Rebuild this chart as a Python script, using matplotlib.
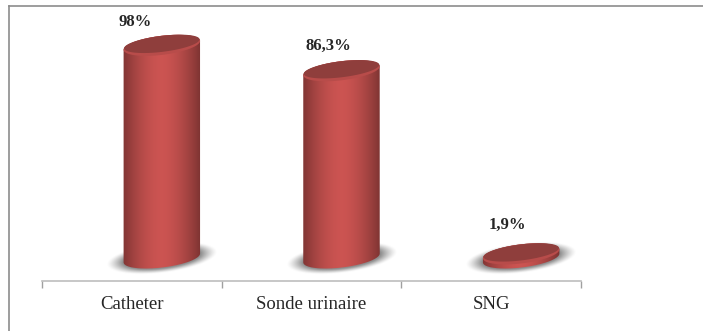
import matplotlib
matplotlib.use("Agg")
import matplotlib.pyplot as plt
import numpy as np
from matplotlib.lines import Line2D
from matplotlib.patches import PathPatch
from matplotlib.path import Path

categories = ["Catheter", "Sonde urinaire", "SNG"]
values = [98, 86.3, 1.9]
value_labels = ["98%", "86,3%", "1,9%"]

W, H = 703, 331
AX_LEFT, AX_RIGHT, AX_BOTTOM, AX_TOP = 42, 581, 281, 6
BASE_PX = 258
PX_PER_UNIT = 2.17
PX_PER_CAT = (AX_RIGHT - AX_LEFT) / 3

# cylinder geometry, in pixels
DEPTH_X = 30
SEMI_A, SEMI_B, TILT = 38.5, 9.5, np.radians(7)
LABEL_DX = [-27, -13, -14]
LABEL_DY = [23, 25, 29]

plt.rcParams["font.family"] = ["Liberation Serif", "DejaVu Serif"]
fig = plt.figure(figsize=(W / 100, H / 100), dpi=100)
ax = fig.add_axes([AX_LEFT / W, 1 - AX_BOTTOM / H, (AX_RIGHT - AX_LEFT) / W, (AX_BOTTOM - AX_TOP) / H])
ax.patch.set_alpha(0)

xlim = (0, 3)
ylim = ((BASE_PX - AX_BOTTOM) / PX_PER_UNIT, (BASE_PX - AX_TOP) / PX_PER_UNIT)


def ellipse_xy(t, a=SEMI_A, b=SEMI_B):
    # tilted ellipse offsets in pixels, y pointing up
    x = a * np.cos(t)
    y = b * np.sin(t)
    return x * np.cos(TILT) - y * np.sin(TILT), x * np.sin(TILT) + y * np.cos(TILT)


def to_data(cx, val, dx, dy):
    return cx + np.asarray(dx) / PX_PER_CAT, val + np.asarray(dy) / PX_PER_UNIT


def draw_shadow(cx):
    # soft grey blur under the base
    xs = np.linspace(-70, 70, 141)
    ys = np.linspace(-30, 30, 61)
    gx, gy = np.meshgrid(xs, ys)
    u = gx * np.cos(TILT) + gy * np.sin(TILT)
    v = -gx * np.sin(TILT) + gy * np.cos(TILT)
    r = np.sqrt((u / 56) ** 2 + (v / 15) ** 2)
    rgba = np.zeros(gx.shape + (4,))
    rgba[..., :3] = 0.4
    rgba[..., 3] = np.clip((1 - r) / 0.3, 0, 1) ** 1.3 * 0.75
    x0, y0 = to_data(cx, 0, -70, -30)
    x1, y1 = to_data(cx, 0, 70, 30)
    ax.imshow(rgba, extent=[x0, x1, y0, y1], origin="lower", aspect="auto", zorder=1, interpolation="bilinear")


def draw_cylinder(cx, val):
    t = np.linspace(0, 2 * np.pi, 200)
    # parameter of the rightmost point, where the sides touch the ellipse
    t_right = np.arctan2(-SEMI_B * np.sin(TILT), SEMI_A * np.cos(TILT))
    bx, by = to_data(cx, 0, *ellipse_xy(np.linspace(t_right + np.pi, t_right + 2 * np.pi, 80)))
    tx, ty = to_data(cx, val, *ellipse_xy(np.linspace(t_right, t_right + np.pi, 80)))
    body = PathPatch(Path(np.column_stack([np.r_[bx, tx], np.r_[by, ty]])), fc="none", ec="none")
    ax.add_patch(body)

    # horizontal shading across the body
    s = np.linspace(-1, 1, 200)
    shade = 1 - 0.38 * np.abs(s + 0.02) ** 1.7
    rgb = np.ones((1, 200, 3))
    rgb[0, :, 0] = 0.80 * shade
    rgb[0, :, 1] = 0.33 * shade
    rgb[0, :, 2] = 0.32 * shade
    half = SEMI_A * np.cos(TILT) + 0.5
    x0, _ = to_data(cx, 0, -half, 0)
    x1, _ = to_data(cx, 0, half, 0)
    im = ax.imshow(rgb, extent=[x0, x1, ylim[0], ylim[1]], aspect="auto", zorder=2)
    im.set_clip_path(body)

    # lighter bevel and the darker cap face
    ex, ey = to_data(cx, val, *ellipse_xy(t))
    ax.fill(ex, ey, color="#b84c4a", lw=0, zorder=3)
    fx, fy = to_data(cx, val, *ellipse_xy(t, SEMI_A - 0.5, SEMI_B - 1.5))
    ax.fill(fx, fy + 1.5 / PX_PER_UNIT, color="#8f3e3c", lw=0, zorder=4)


for i, val in enumerate(values):
    cx = i + 0.5 + DEPTH_X / PX_PER_CAT
    draw_shadow(cx)
    draw_cylinder(cx, val)
    lx, ly = to_data(cx, val, LABEL_DX[i], LABEL_DY[i])
    ax.text(lx, ly, value_labels[i], ha="center", va="center", fontsize=12, fontweight="bold", color="#262626", zorder=6)

ax.set_xlim(*xlim)
ax.set_ylim(*ylim)
for side in ["left", "right", "top"]:
    ax.spines[side].set_visible(False)
ax.spines["bottom"].set_color("#bdbdbd")
ax.spines["bottom"].set_linewidth(1.2)
ax.set_yticks([])
ax.set_xticks([0, 1, 2, 3])
ax.set_xticklabels([])
ax.tick_params(axis="x", which="major", length=5, width=1, color="#a0a0a0")
ax.set_xticks([0.5, 1.5, 2.5], categories, minor=True)
ax.tick_params(axis="x", which="minor", length=0, pad=11, labelsize=13.5, labelcolor="#262626")

# outer frame, only top and left edges
frame = "#8c8c8c"
fig.add_artist(Line2D([9 / W, 9 / W], [0, 1 - 6 / H], color=frame, lw=1.2))
fig.add_artist(Line2D([9 / W, 1], [1 - 6 / H, 1 - 6 / H], color=frame, lw=1.2))

fig.savefig("out.png", dpi=100)
